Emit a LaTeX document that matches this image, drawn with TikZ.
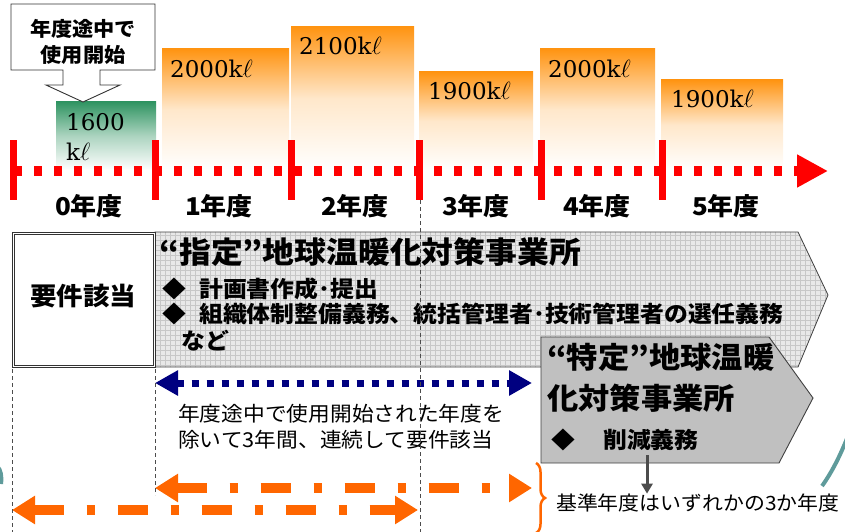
\documentclass[tikz,border=0pt]{standalone}
\usepackage{fontspec}
\newfontfamily\jp[FakeStretch=1.06]{Noto Sans CJK JP}
\newfontfamily\numf{DejaVu Serif}
\usetikzlibrary{arrows.meta,decorations.pathreplacing}
\definecolor{redline}{RGB}{255,0,0}
\definecolor{orangebar}{RGB}{255,148,18}
\definecolor{greenbar}{RGB}{48,148,98}
\definecolor{orangeline}{RGB}{255,102,0}
\definecolor{navyline}{RGB}{0,0,128}
\definecolor{boxgray}{RGB}{192,192,192}
\definecolor{patgray}{RGB}{232,232,232}
\definecolor{tealarc}{RGB}{95,155,155}
\begin{document}
\begin{tikzpicture}[x=1pt,y=-1pt,
  jbold/.style={font=\jp\bfseries\fontsize{#1}{#1}\selectfont, inner sep=0pt},
  jreg/.style={font=\jp\fontsize{#1}{#1}\selectfont, inner sep=0pt},
  numlbl/.style={font=\numf\fontsize{23}{28}\selectfont, inner sep=0pt, anchor=base west},
  obar/.style={shading=axis, top color=orangebar, bottom color=white, middle color=orangebar!22!white},
  gbar/.style={shading=axis, top color=greenbar, bottom color=white, middle color=greenbar!40!white},
  tick/.style={redline, line width=7pt},
  guide/.style={black!70, line width=0.7pt, dash pattern=on 4pt off 3pt},
  oarrow/.style={orangeline, line width=10pt, dash pattern=on 30pt off 23pt on 8pt off 23pt,
    {Triangle[length=23pt,width=27pt]}-{Triangle[length=23pt,width=27pt]}},
]
\useasboundingbox (0,0) rectangle (845,532);

% background arcs
\draw[tealarc, line width=4pt] (822,486) .. controls (832,472) and (840,456) .. (848,436);
\draw[tealarc, line width=4pt] (-3,466) .. controls (1,470) and (2,476) .. (1,484);

% bars
\fill[gbar] (56,102) rectangle (156,170);
\fill[obar] (162,49) rectangle (289,170);
\fill[obar] (291,27) rectangle (414,170);
\fill[obar] (419,72) rectangle (533,170);
\fill[obar] (540,49) rectangle (655,170);
\fill[obar] (661,80) rectangle (783,170);

\node[numlbl] (v0a) at (66,130) {1600};
\node[numlbl] (v0b) at (66,160) {k$\ell$};
\node[numlbl] (v1) at (170,78) {2000k$\ell$};
\node[numlbl] (v2) at (299,55) {2100k$\ell$};
\node[numlbl] (v3) at (428,100) {1900k$\ell$};
\node[numlbl] (v4) at (548,78) {2000k$\ell$};
\node[numlbl] (v5) at (671,108) {1900k$\ell$};

% callout
\draw[fill=white, draw=black!80, line width=0.9pt]
  (11,4) -- (155,4) -- (155,70) -- (100,70) -- (100,85) -- (120,85) -- (83,102)
  -- (46,85) -- (63,85) -- (63,70) -- (11,70) -- cycle;
\node[jbold=20] (call1) at (83,29) {年度途中で};
\node[jbold=20] (call2) at (83,55) {使用開始};

% timeline
\coordinate (tlstart) at (14,171);
\coordinate (tlend) at (828,171);
\draw[redline, line width=10pt, dash pattern=on 8pt off 12pt,
  -{Triangle[length=31pt,width=31pt]}] (tlstart) -- (tlend);
\foreach \x in {13,155,291,419,541,662} \draw[tick] (\x,140) -- (\x,200);

\node[jbold=24.5] (y0) at (89,206) {0年度};
\node[jbold=24.5] (y1) at (219,206) {1年度};
\node[jbold=24.5] (y2) at (355,206) {2年度};
\node[jbold=24.5] (y3) at (476,206) {3年度};
\node[jbold=24.5] (y4) at (597,206) {4年度};
\node[jbold=24.5] (y5) at (726,206) {5年度};

% designated pentagon
\begin{scope}
\clip (155,232) -- (798,232) -- (828,295) -- (798,367) -- (155,367) -- cycle;
\fill[patgray] (155,232) rectangle (830,367);
\draw[black!22, line width=0.5pt, step=5pt] (150,228) grid (832,370);
\end{scope}
\draw[black!75, line width=0.8pt] (155,232) -- (798,232) -- (828,295) -- (798,367) -- (155,367) -- cycle;

\node[jbold=30, anchor=west] (shitei) at (159,252) {“指定”地球温暖化対策事業所};
\node[jbold=22.5, anchor=west] (s1) at (162,289) {\makebox[37pt][l]{◆}計画書作成･提出};
\node[jbold=22.5, anchor=west] (s2) at (162,314) {\makebox[37pt][l]{◆}組織体制整備義務、統括管理者･技術管理者の選任義務};
\node[jbold=22.5, anchor=west] (s3) at (181,341) {など};

% requirement box
\node[draw=black!80, double, double distance=1.3pt, line width=0.6pt, fill=white,
  minimum width=141pt, minimum height=133pt, anchor=north west, inner sep=0pt] (req) at (13,233) {};
\node[jbold=25] (reqt) at (83,296) {要件該当};

% blue arrow
\draw[navyline, line width=7pt, dash pattern=on 7pt off 8pt,
  {Triangle[length=23pt,width=24pt]}-{Triangle[length=23pt,width=24pt]}] (155,383) -- (532,383);
\node[jreg=20.5, anchor=west] (note1) at (178,414) {年度途中で使用開始された年度を};
\node[jreg=20.5, anchor=west] (note2) at (178,440) {除いて3年間、連続して要件該当};

% orange arrows
\draw[oarrow] (155,488) -- (532,488);
\draw[oarrow] (12,510) -- (418,510);

% specified pentagon
\draw[fill=boxgray, draw=black!75, line width=0.9pt]
  (541,337) -- (769,337) -- (813,398) -- (779,463) -- (541,463) -- cycle;
\node[jbold=29.5, anchor=west] (tok1) at (547,357) {“特定”地球温暖};
\node[jbold=29.5, anchor=west] (tok2) at (547,398) {化対策事業所};
\node[jbold=22.5, anchor=west] (tok3) at (551,440) {\makebox[52pt][l]{◆}削減義務};

% base-year note
\node[jreg=19.7, anchor=west] (base) at (556,503) {基準年度はいずれかの3か年度};
\coordinate (tokbot) at (647,455);
\draw[black!70, line width=3pt, -{Triangle[length=10pt,width=11pt]}] (tokbot) -- (base.north -| tokbot);

\draw[orangeline, line width=2.5pt, decorate, decoration={brace, amplitude=9pt}] (536,463) -- (536,533);

% guide lines
\draw[guide] (12,369) -- (12,532);
\draw[guide] (155,369) -- (155,495);
\draw[guide] (420,200) -- (420,532);
\end{tikzpicture}
\end{document}
